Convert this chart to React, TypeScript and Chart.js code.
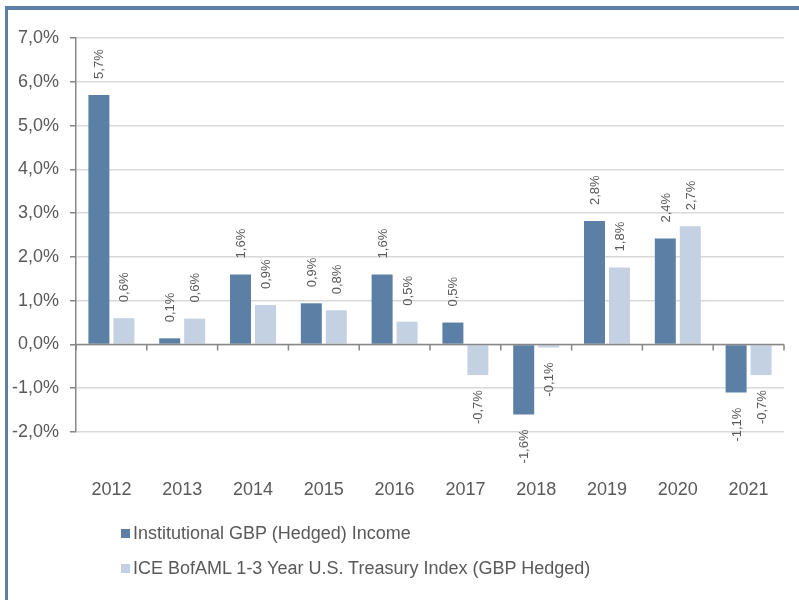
import React, { useEffect, useRef } from "react";
import { Chart, registerables } from "chart.js";

Chart.register(...registerables);

const categories = ["2012", "2013", "2014", "2015", "2016", "2017", "2018", "2019", "2020", "2021"];
const seriesNames = [
  "Institutional GBP (Hedged) Income",
  "ICE BofAML 1-3 Year U.S. Treasury Index (GBP Hedged)",
];
const institutional = [5.7, 0.14, 1.6, 0.94, 1.6, 0.5, -1.6, 2.82, 2.42, -1.1];
const treasury = [0.6, 0.59, 0.9, 0.78, 0.52, -0.7, -0.07, 1.76, 2.7, -0.7];
const yTicks = [-2, -1, 0, 1, 2, 3, 4, 5, 6, 7];

const DARK = "#5b7fa5";
const LIGHT = "#c4d1e3";
const TEXT = "#595959";
const AXIS = "#878787";
const GRID = "#d9d9d9";
const FONT = "'Liberation Sans', Arial, sans-serif";

const fmt = (v: number) => v.toFixed(1).replace(".", ",") + "%";

const valueLabels = {
  id: "valueLabels",
  afterDatasetsDraw(chart: any) {
    const ctx = chart.ctx;
    chart.data.datasets.forEach((ds: any, di: number) => {
      const meta = chart.getDatasetMeta(di);
      meta.data.forEach((el: any, i: number) => {
        const v = ds.data[i] as number;
        ctx.save();
        ctx.translate(el.x + 1, el.y);
        ctx.rotate(-Math.PI / 2);
        ctx.font = `13px ${FONT}`;
        ctx.fillStyle = TEXT;
        ctx.textBaseline = "middle";
        if (v >= 0) {
          ctx.textAlign = "left";
          ctx.fillText(fmt(v), 16, 0);
        } else {
          ctx.textAlign = "right";
          ctx.fillText(fmt(v), -15, 0);
        }
        ctx.restore();
      });
    });
  },
};

const zeroAxis = {
  id: "zeroAxis",
  afterDatasetsDraw(chart: any) {
    const { ctx, chartArea } = chart;
    const y0 = chart.scales.y.getPixelForValue(0);
    const n = categories.length;
    const w = (chartArea.right - chartArea.left) / n;
    ctx.save();
    ctx.strokeStyle = AXIS;
    ctx.lineWidth = 1.5;
    ctx.beginPath();
    ctx.moveTo(chartArea.left, y0);
    ctx.lineTo(chartArea.right, y0);
    for (let k = 0; k <= n; k++) {
      const x = chartArea.left + k * w;
      ctx.moveTo(x, y0);
      ctx.lineTo(x, y0 + 6);
    }
    ctx.stroke();
    ctx.restore();
  },
};

export default function App() {
  const ref = useRef<HTMLCanvasElement>(null);
  useEffect(() => {
    if (!ref.current) return;
    const chart = new Chart(ref.current, {
      type: "bar",
      data: {
        labels: categories,
        datasets: [
          { label: seriesNames[0], data: institutional, backgroundColor: DARK, categoryPercentage: 0.706, barPercentage: 0.84 },
          { label: seriesNames[1], data: treasury, backgroundColor: LIGHT, categoryPercentage: 0.706, barPercentage: 0.84 },
        ],
      },
      options: {
        responsive: false,
        animation: false,
        devicePixelRatio: 1,
        layout: { padding: { left: 0, right: 15, top: 38, bottom: 68 } },
        plugins: { legend: { display: false }, tooltip: { enabled: false } },
        scales: {
          x: {
            grid: { display: false, drawTicks: false },
            border: { display: false },
            ticks: { color: TEXT, font: { family: FONT, size: 18 }, padding: 47, maxRotation: 0 },
            afterFit: (s: any) => { s.height = 100; s.paddingLeft = 0; s.paddingRight = 0; },
          },
          y: {
            min: -2,
            max: 7,
            afterBuildTicks: (s: any) => { s.ticks = yTicks.map((v) => ({ value: v })); },
            grid: { color: GRID, lineWidth: 1.5, tickLength: 6, tickColor: AXIS, tickWidth: 1.5 },
            border: { color: AXIS, width: 1.5 },
            ticks: { color: TEXT, font: { family: FONT, size: 18 }, padding: 11, callback: (v: any) => fmt(Number(v)) },
            afterFit: (s: any) => { s.width = 76; s.paddingTop = 0; s.paddingBottom = 0; },
          },
        },
      },
      plugins: [zeroAxis, valueLabels],
    });
    return () => chart.destroy();
  }, []);

  const legendItem = (color: string, text: string, top: number) => (
    <div style={{ position: "absolute", left: 121, top, height: 20, display: "flex", alignItems: "center", fontFamily: FONT, fontSize: 18, color: TEXT, whiteSpace: "nowrap" }}>
      <span style={{ display: "inline-block", width: 9, height: 9, background: color, marginRight: 3 }} />
      <span>{text}</span>
    </div>
  );

  return (
    <div style={{ position: "absolute", left: 0, top: 0, width: 799, height: 600, overflow: "hidden", background: "#fff" }}>
      <div style={{ position: "absolute", left: 5, top: 6, width: 800, height: 600, borderTop: `4px solid ${DARK}`, borderLeft: `3px solid ${DARK}` }} />
      <canvas ref={ref} width={799} height={600} style={{ position: "absolute", left: 0, top: 0 }} />
      {legendItem(DARK, seriesNames[0], 523)}
      {legendItem(LIGHT, seriesNames[1], 558)}
    </div>
  );
}
